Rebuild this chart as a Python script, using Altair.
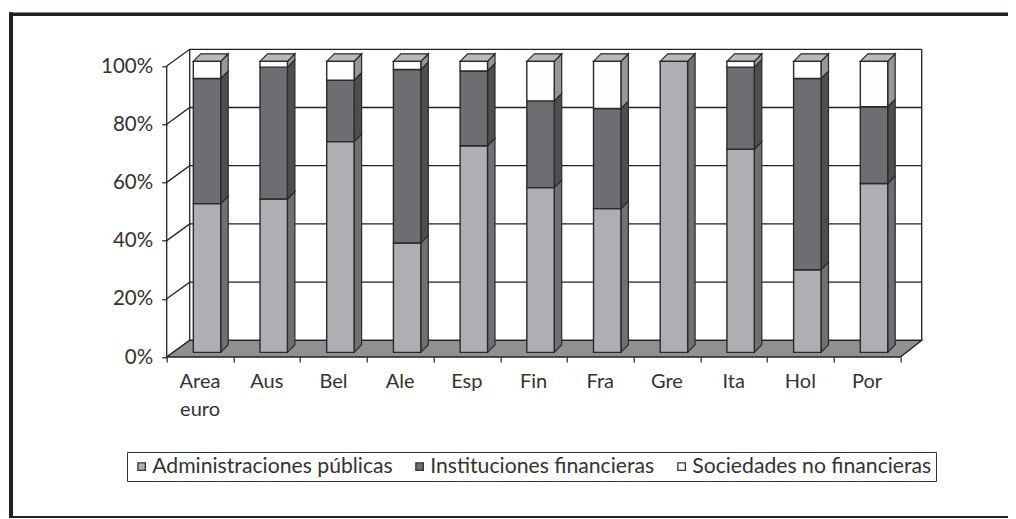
import altair as alt
import pandas as pd

categories = ["Area\neuro", "Aus", "Bel", "Ale", "Esp", "Fin", "Fra", "Gre", "Ita", "Hol", "Por"]
series = ["Administraciones públicas", "Instituciones financieras", "Sociedades no financieras"]
admin = [51.1, 52.7, 72.4, 37.6, 71.0, 56.6, 49.4, 100.0, 69.8, 28.4, 58.0]
inst = [43.0, 45.3, 21.1, 59.6, 25.7, 29.8, 34.4, 0.0, 28.2, 65.7, 26.4]
soc = [5.9, 2.0, 6.5, 2.8, 3.3, 13.6, 16.2, 0.0, 2.0, 5.9, 15.6]
ticks = [0, 20, 40, 60, 80, 100]

FONT = "Lato"
INK = "#333333"
front_fill = ["#aeafb2", "#6d6e71", "#fdfdfd"]
side_fill = ["#6f7073", "#4d4e50", "#96979a"]
top_fill = "#b9babb"
floor_fill = "#8f9092"

# projection, in data units (categories on x, percent on y)
PW, PH = 755.0, 307.7
XMAX = PW / 66.7
YMAX = PH / 2.91
WALL_DX, WALL_DY = 0.345, YMAX - 100
BAR_X, BAR_W = 0.399, 0.411
BAR_Y = 1.6
SIDE_DX, SIDE_DY = 0.112, 2.6
NCAT = len(categories)

xs = alt.Scale(domain=[0, XMAX], nice=False, zero=False)
ys = alt.Scale(domain=[0, YMAX], nice=False, zero=False)
x_axis = alt.Axis(
    values=list(range(NCAT + 1)), labels=False, domain=False, grid=False,
    tickColor="#222222", tickSize=5, tickWidth=1.2,
)
y_axis = alt.Axis(
    values=ticks, domain=False, grid=False, tickColor="#222222", tickSize=5, tickWidth=1.2,
    labelFont=FONT, labelFontSize=20.5, labelColor=INK, labelPadding=9,
    labelExpr="datum.value + '%'",
)
X = alt.X("x:Q", scale=xs, axis=x_axis, title=None)
Y = alt.Y("y:Q", scale=ys, axis=y_axis, title=None)
Y2 = alt.Y2("y2:Q")

# walls and gridlines
wall_rows = []
for t in ticks:
    wall_rows += [
        {"id": f"g{t}", "o": 0, "x": 0, "y": t},
        {"id": f"g{t}", "o": 1, "x": WALL_DX, "y": t + WALL_DY},
        {"id": f"g{t}", "o": 2, "x": XMAX, "y": t + WALL_DY},
    ]
wall_rows += [
    {"id": "left", "o": 0, "x": 0, "y": 0},
    {"id": "left", "o": 1, "x": 0, "y": 100},
    {"id": "back", "o": 0, "x": WALL_DX, "y": WALL_DY},
    {"id": "back", "o": 1, "x": WALL_DX, "y": 100 + WALL_DY},
    {"id": "right", "o": 0, "x": XMAX, "y": WALL_DY},
    {"id": "right", "o": 1, "x": XMAX, "y": 100 + WALL_DY},
]
walls = alt.Chart(pd.DataFrame(wall_rows)).mark_line(color="#222222", strokeWidth=1.3).encode(
    x=X, y=Y, detail="id:N", order="o:Q"
)

# floor
floor_df = pd.DataFrame([
    {"x": 0, "y": 0, "y2": 0},
    {"x": WALL_DX, "y": WALL_DY, "y2": 0},
    {"x": NCAT, "y": WALL_DY, "y2": 0},
    {"x": XMAX, "y": WALL_DY, "y2": WALL_DY},
])
floor = alt.Chart(floor_df).mark_area(
    fill=floor_fill, stroke="#222222", strokeWidth=1.3, orient="vertical"
).encode(x=X, y=Y, y2=Y2)

# bars
front_rows, side_rows, top_rows = [], [], []
for i, cat in enumerate(categories):
    left = i + BAR_X
    right = left + BAR_W
    base = 0.0
    for k, vals in enumerate((admin, inst, soc)):
        lo = base + BAR_Y
        hi = lo + vals[i]
        base += vals[i]
        if vals[i] <= 0:
            continue
        front_rows.append({"x": left, "x2": right, "y": lo, "y2": hi, "serie": series[k], "k": k})
        sid = f"{i}-{k}"
        side_rows += [
            {"id": sid, "x": right, "y": hi, "y2": lo, "fill": side_fill[k]},
            {"id": sid, "x": right + SIDE_DX, "y": hi + SIDE_DY, "y2": lo + SIDE_DY, "fill": side_fill[k]},
        ]
    t = base + BAR_Y
    top_rows += [
        {"id": i, "x": left, "y": t, "y2": t},
        {"id": i, "x": left + SIDE_DX, "y": t + SIDE_DY, "y2": t},
        {"id": i, "x": right, "y": t + SIDE_DY, "y2": t},
        {"id": i, "x": right + SIDE_DX, "y": t + SIDE_DY, "y2": t + SIDE_DY},
    ]

sides = alt.Chart(pd.DataFrame(side_rows)).mark_area(
    stroke="#2a2a2a", strokeWidth=1.2, orient="vertical"
).encode(x=X, y=Y, y2=Y2, detail="id:N", fill=alt.Fill("fill:N", scale=None))

tops = alt.Chart(pd.DataFrame(top_rows)).mark_area(
    fill=top_fill, stroke="#2a2a2a", strokeWidth=1.2, orient="vertical"
).encode(x=X, y=Y, y2=Y2, detail="id:N")

fronts = alt.Chart(pd.DataFrame(front_rows)).mark_bar(
    stroke="#2a2a2a", strokeWidth=1.4
).encode(
    x=X,
    x2="x2:Q",
    y=Y,
    y2=Y2,
    color=alt.Color(
        "serie:N",
        scale=alt.Scale(domain=series, range=front_fill),
        legend=alt.Legend(
            title=None,
            orient="none",
            legendX=-39.7,
            legendY=402.7,
            direction="horizontal",
            columns=3,
            symbolType="square",
            symbolSize=56,
            symbolStrokeColor="#333333",
            symbolStrokeWidth=1.3,
            symbolOpacity=1,
            labelFont=FONT,
            labelFontSize=21.2,
            labelColor=INK,
            labelOffset=0,
            labelLimit=400,
            columnPadding=16,
            padding=4,
            strokeColor="#333333",
            fillColor="white",
        ),
    ),
)

labels = alt.Chart(pd.DataFrame({
    "x": [i + 0.5 for i in range(NCAT)], "y": [0] * NCAT, "t": categories
})).mark_text(
    font=FONT, fontSize=20, color=INK, baseline="top", align="center",
    dy=15, lineBreak="\n", lineHeight=28,
).encode(x=X, y=Y, text="t:N")

# outer frame
frame_left = alt.Chart().mark_rule(color="#231f20", strokeWidth=4).encode(
    x=alt.value(-155.7), y=alt.value(-37), y2=alt.value(469))
frame_top = alt.Chart().mark_rule(color="#231f20", strokeWidth=3.5).encode(
    x=alt.value(-157.7), x2=alt.value(841.3), y=alt.value(-35))
frame_bottom = alt.Chart().mark_rule(color="#231f20", strokeWidth=2).encode(
    x=alt.value(-157.7), x2=alt.value(841.3), y=alt.value(467.7))

chart = alt.layer(
    walls, floor, sides, tops, fronts, labels, frame_left, frame_top, frame_bottom
).properties(
    width=PW, height=PH,
    autosize=alt.AutoSizeParams(type="none"),
    padding={"left": 158.7, "top": 41.3, "right": 86.3, "bottom": 161},
    background="white",
).configure_view(stroke=None)

chart.save("out.html", embed_options={"renderer": "svg", "actions": False})
